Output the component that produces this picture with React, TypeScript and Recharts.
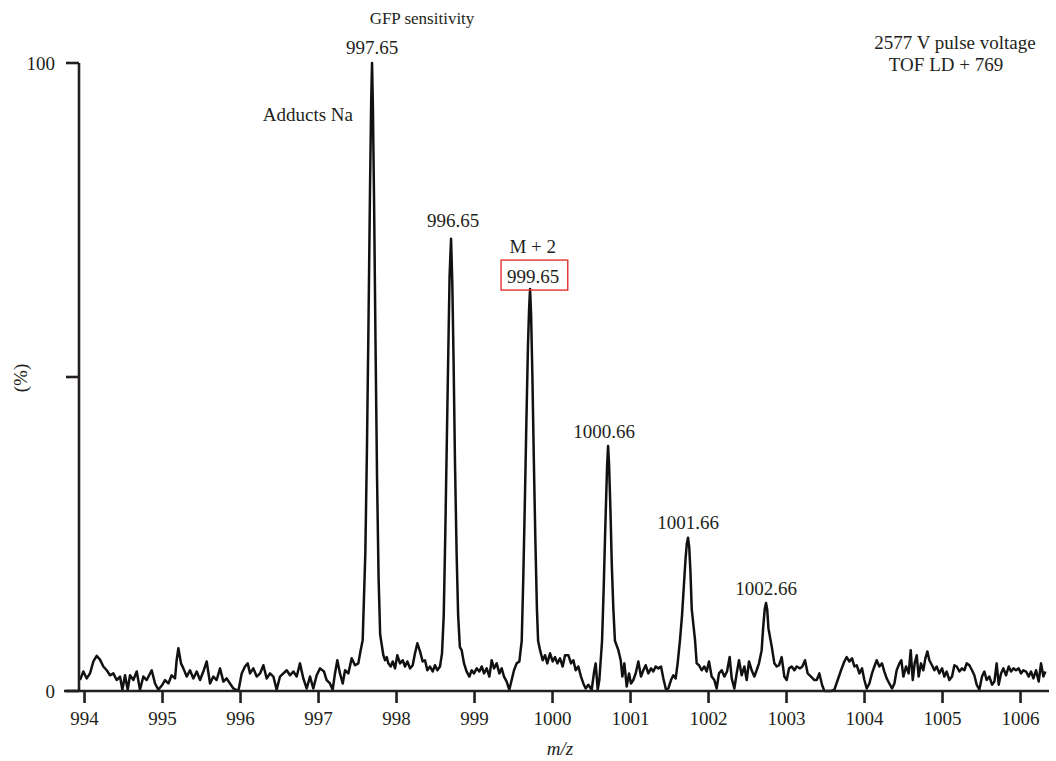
import React from 'react';
import { LineChart, Line, XAxis, YAxis, ReferenceLine, ReferenceDot } from 'recharts';

const FONT = "'Liberation Serif', 'DejaVu Serif', serif";
const INK = '#231f20';

// [m/z, intensity %]
const noise994to997: number[][] = [
  [993.942, 1.75], [993.985, 3.1], [994.028, 2.0], [994.07, 2.8], [994.113, 4.7], [994.156, 5.6], [994.198, 5.0],
  [994.241, 3.9], [994.284, 3.3], [994.327, 2.5], [994.369, 2.8], [994.412, 1.75], [994.455, 2.3], [994.485, 0.2],
  [994.519, 2.5], [994.553, 0.2], [994.583, 2.5], [994.626, 1.75], [994.669, 3.1], [994.711, 0.2], [994.754, 2.3],
  [994.797, 1.75], [994.861, 3.3], [994.904, 1.2], [994.946, 0.2], [994.998, 1.0], [995.032, 1.75], [995.075, 1.2],
  [995.117, 2.5], [995.16, 2.0], [995.181, 4.9], [995.203, 6.8], [995.237, 4.4], [995.267, 3.6], [995.31, 2.3],
  [995.352, 3.3], [995.395, 2.0], [995.438, 3.1], [995.481, 1.75], [995.523, 3.1], [995.566, 4.7], [995.609, 1.2],
  [995.651, 2.3], [995.694, 1.75], [995.737, 3.6], [995.78, 1.5], [995.822, 2.0], [995.865, 1.2], [995.908, 0.4],
  [995.972, 0], [996.015, 2.8], [996.057, 3.9], [996.092, 4.4], [996.122, 2.8], [996.164, 3.6], [996.207, 2.3],
  [996.25, 2.8], [996.293, 4.1], [996.335, 2.0], [996.378, 2.8], [996.421, 2.3], [996.463, 0.2], [996.506, 2.3],
  [996.549, 2.8], [996.592, 3.3], [996.634, 2.5], [996.677, 3.1], [996.72, 2.3], [996.762, 4.4], [996.805, 2.0],
  [996.848, 0.4], [996.891, 2.3], [996.933, 0.4], [996.976, 2.5], [997.019, 3.6], [997.07, 3.1], [997.104, 1.75],
  [997.147, 1.2], [997.181, 0.2], [997.211, 2.8], [997.241, 4.9], [997.275, 2.8], [997.31, 1.2], [997.34, 3.3],
  [997.382, 2.8], [997.425, 5.2], [997.468, 4.1], [997.51, 4.4], [997.54, 6.5], [997.566, 8.1],
];
const peak997: number[][] = [
  [997.6, 22], [997.62, 38], [997.64, 58], [997.66, 80], [997.675, 94], [997.686, 100], [997.697, 93],
  [997.712, 78], [997.73, 56], [997.75, 34], [997.77, 18], [997.79, 9],
];
const noise998: number[][] = [
  [997.831, 5.7], [997.852, 4.9], [997.874, 5.4], [997.895, 4.4], [997.925, 3.9], [997.951, 4.7], [997.981, 3.6],
  [998.01, 5.7], [998.045, 4.4], [998.079, 4.9], [998.109, 3.9], [998.139, 4.7], [998.173, 3.6], [998.207, 4.1],
  [998.237, 6.0], [998.267, 7.6], [998.301, 6.3], [998.335, 4.7], [998.365, 4.9], [998.395, 3.3], [998.429, 3.9],
  [998.463, 3.1], [998.493, 4.1], [998.523, 3.3], [998.557, 3.9], [998.583, 6.0],
];
const peak998: number[][] = [
  [998.605, 12], [998.625, 25], [998.645, 40], [998.665, 55], [998.68, 66], [998.699, 72], [998.715, 65],
  [998.732, 52], [998.75, 36], [998.77, 22], [998.79, 12], [998.812, 7],
];
const noise999: number[][] = [
  [998.835, 6.5], [998.865, 4.4], [998.899, 3.1], [998.934, 2.3], [998.963, 3.3], [998.993, 2.8], [999.028, 3.6],
  [999.062, 3.1], [999.092, 3.9], [999.122, 2.8], [999.156, 3.6], [999.19, 2.3], [999.22, 4.9], [999.25, 3.6],
  [999.284, 4.4], [999.318, 2.8], [999.348, 3.6], [999.378, 2.3], [999.412, 1.5], [999.446, 0.2], [999.476, 1.75],
  [999.506, 3.3], [999.54, 4.4], [999.575, 4.7],
];
const peak999: number[][] = [
  [999.605, 8], [999.625, 18], [999.645, 30], [999.665, 43], [999.685, 55], [999.7, 61], [999.712, 64],
  [999.725, 60], [999.742, 50], [999.76, 37], [999.78, 24], [999.8, 13], [999.815, 8],
];
const noise1000: number[][] = [
  [999.84, 6.5], [999.874, 4.9], [999.904, 5.7], [999.933, 4.4], [999.968, 6.0], [1000.002, 4.7], [1000.032, 5.4],
  [1000.062, 4.4], [1000.096, 5.2], [1000.13, 3.9], [1000.16, 5.7], [1000.203, 5.7], [1000.237, 4.4], [1000.267, 4.9],
  [1000.297, 3.3], [1000.331, 3.9], [1000.365, 2.3], [1000.395, 1.2], [1000.425, 0.4], [1000.459, 1.0], [1000.502, 0.2],
  [1000.536, 3.3], [1000.553, 4.4], [1000.579, 0.2], [1000.6, 1.75],
];
const peak1000: number[][] = [
  [1000.635, 8], [1000.655, 16], [1000.672, 24], [1000.688, 31], [1000.7, 36], [1000.712, 39], [1000.725, 36],
  [1000.742, 29], [1000.76, 20], [1000.78, 13], [1000.8, 8],
];
const noise1001: number[][] = [
  [1000.844, 6.5], [1000.874, 4.9], [1000.895, 2.3], [1000.921, 4.4], [1000.951, 0.7], [1000.981, 2.8], [1001.006, 1.2],
  [1001.036, 1.75], [1001.066, 2.8], [1001.1, 4.7], [1001.134, 2.3], [1001.164, 3.3], [1001.194, 4.1], [1001.228, 2.8],
  [1001.263, 3.6], [1001.292, 3.1], [1001.322, 3.9], [1001.357, 3.6], [1001.391, 3.9], [1001.421, 2.0], [1001.455, 0.2],
  [1001.485, 0.4], [1001.519, 1.75], [1001.549, 2.5], [1001.579, 2.0], [1001.604, 4.4], [1001.634, 8.1],
];
const peak1001: number[][] = [
  [1001.66, 12], [1001.685, 17], [1001.705, 21], [1001.722, 23.5], [1001.737, 24.4], [1001.752, 23], [1001.768, 19],
  [1001.785, 13],
];
const noise1002: number[][] = [
  [1001.827, 8.1], [1001.848, 4.4], [1001.878, 4.1], [1001.912, 3.3], [1001.946, 3.9], [1001.976, 3.1], [1002.006, 4.7],
  [1002.04, 2.3], [1002.074, 1.75], [1002.104, 0.4], [1002.134, 2.8], [1002.169, 3.3], [1002.203, 2.3], [1002.237, 3.1],
  [1002.271, 5.4], [1002.297, 2.0], [1002.331, 0.4], [1002.361, 2.8], [1002.391, 4.9], [1002.425, 2.5], [1002.459, 3.9],
  [1002.489, 1.75], [1002.519, 4.7], [1002.553, 3.3], [1002.587, 2.3], [1002.617, 3.3], [1002.647, 4.4], [1002.681, 6.5],
];
const peak1002: number[][] = [
  [1002.7, 10], [1002.72, 13], [1002.737, 14], [1002.752, 13], [1002.768, 10],
];
const noise1003to1006: number[][] = [
  [1002.81, 7.1], [1002.844, 4.4], [1002.874, 3.9], [1002.904, 4.1], [1002.938, 5.4], [1002.972, 2.3], [1003.002, 1.75],
  [1003.032, 3.6], [1003.066, 3.9], [1003.1, 3.3], [1003.13, 3.9], [1003.173, 3.6], [1003.203, 3.9], [1003.237, 4.9],
  [1003.271, 2.8], [1003.314, 2.3], [1003.357, 1.75], [1003.387, 1.75], [1003.421, 2.8], [1003.455, 1.0], [1003.485, 0],
  [1003.515, 0], [1003.571, 0], [1003.613, 0.2], [1003.656, 1.75], [1003.699, 3.3], [1003.741, 4.7], [1003.771, 5.4],
  [1003.806, 4.7], [1003.84, 5.2], [1003.87, 3.9], [1003.9, 4.1], [1003.934, 2.8], [1003.968, 3.6], [1003.998, 1.75],
  [1004.028, 0.4], [1004.062, 1.2], [1004.096, 2.8], [1004.126, 3.9], [1004.156, 4.9], [1004.19, 3.9], [1004.224, 4.4],
  [1004.254, 3.1], [1004.284, 2.0], [1004.318, 1.2], [1004.353, 0.4], [1004.383, 1.2], [1004.412, 3.3], [1004.447, 4.4],
  [1004.472, 4.9], [1004.498, 2.3], [1004.532, 3.9], [1004.566, 2.8], [1004.592, 6.5], [1004.618, 1.75], [1004.643, 4.4],
  [1004.669, 5.7], [1004.694, 2.3], [1004.724, 4.4], [1004.754, 3.3], [1004.78, 5.2], [1004.806, 6.3], [1004.831, 4.9],
  [1004.865, 4.1], [1004.895, 3.3], [1004.925, 3.9], [1004.959, 2.8], [1004.994, 3.6], [1005.024, 2.3], [1005.053, 3.1],
  [1005.088, 1.75], [1005.122, 2.3], [1005.152, 4.1], [1005.182, 3.9], [1005.216, 3.1], [1005.25, 3.6], [1005.28, 3.3],
  [1005.31, 4.4], [1005.344, 4.1], [1005.378, 3.3], [1005.408, 2.5], [1005.438, 1.0], [1005.472, 0.2], [1005.506, 2.3],
  [1005.536, 3.1], [1005.566, 1.75], [1005.6, 2.3], [1005.635, 1.0], [1005.665, 1.5], [1005.694, 4.4], [1005.72, 1.0],
  [1005.75, 2.8], [1005.78, 3.6], [1005.814, 2.5], [1005.848, 3.9], [1005.878, 3.1], [1005.908, 3.6], [1005.942, 3.3],
  [1005.976, 3.6], [1006.006, 2.8], [1006.036, 3.3], [1006.071, 3.1], [1006.105, 2.3], [1006.135, 3.1], [1006.165, 2.0],
  [1006.199, 3.3], [1006.233, 1.5], [1006.263, 4.4], [1006.293, 2.3], [1006.318, 3.1],
];

const xTicks = [994, 995, 996, 997, 998, 999, 1000, 1001, 1002, 1003, 1004, 1005, 1006];
const yTicks = [0, 50, 100];
const yTickLabels: Record<number, string> = { 0: '0', 50: '', 100: '100' };

const peakMz = [997.686, 998.699, 999.712, 1000.712, 1001.737, 1002.737];
const peakHeight = [100, 72, 64, 39, 24.4, 14];
const peakText = ['997.65', '996.65', '999.65', '1000.66', '1001.66', '1002.66'];

// label placement (pixel offsets from each peak apex)
const labelOffset = [[0, -16], [2, -18.6], [3, -12.5], [-4, -15], [0, -15], [0, -15]];

const data = [
  ...noise994to997, ...peak997, ...noise998, ...peak998, ...noise999, ...peak999,
  ...noise1000, ...peak1000, ...noise1001, ...peak1001, ...noise1002, ...peak1002, ...noise1003to1006,
]
  .map(([mz, intensity]) => ({ mz, intensity }))
  .sort((a, b) => a.mz - b.mz);

const txt = { fontFamily: FONT, fill: INK };

function XTick(props: any) {
  const { x, y, payload } = props;
  return (
    <text x={x} y={y + 7} textAnchor="middle" dominantBaseline="central" fontSize={19} style={{ fontFamily: FONT }} fill={INK}>
      {payload.value}
    </text>
  );
}

function YTick(props: any) {
  const { x, y, payload } = props;
  return (
    <text x={x} y={y} textAnchor="end" dominantBaseline="central" fontSize={19} style={{ fontFamily: FONT }} fill={INK}>
      {yTickLabels[payload.value] ?? ''}
    </text>
  );
}

function PeakLabel(props: any) {
  const { cx, cy, idx } = props;
  const [dx, dy] = labelOffset[idx];
  const x = cx + dx;
  const y = cy + dy;
  return (
    <g>
      {idx === 0 && (
        <text x={cx - 19} y={cy + 51} textAnchor="end" dominantBaseline="central" fontSize={19} {...txt}>
          Adducts Na
        </text>
      )}
      {idx === 2 && (
        <>
          <text x={cx + 2.7} y={cy - 42.6} textAnchor="middle" dominantBaseline="central" fontSize={19} {...txt}>
            M + 2
          </text>
          <rect x={cx - 29} y={cy - 29} width={66.7} height={30} fill="none" stroke="#e0332f" strokeWidth={1.4} />
        </>
      )}
      <text x={x} y={y} textAnchor="middle" dominantBaseline="central" fontSize={19} {...txt}>
        {peakText[idx]}
      </text>
    </g>
  );
}

export default function App() {
  return (
    <div style={{ position: 'absolute', left: 0, top: 0, width: 1056, height: 761, background: '#fff', fontFamily: FONT }}>
      <LineChart width={1056} height={761} data={data} margin={{ top: 63, right: 7, bottom: 30, left: 49 }}>
        <XAxis
          type="number"
          dataKey="mz"
          domain={[993.929, 1006.365]}
          allowDataOverflow
          ticks={xTicks}
          interval={0}
          height={40}
          tickSize={12}
          tickMargin={8}
          axisLine={{ stroke: INK, strokeWidth: 2.6 }}
          tickLine={{ stroke: INK, strokeWidth: 2.6 }}
          tick={<XTick />}
        />
        <YAxis
          type="number"
          domain={[0, 100]}
          ticks={yTicks}
          interval={0}
          width={30}
          tickSize={13}
          tickMargin={11}
          axisLine={{ stroke: INK, strokeWidth: 2.6 }}
          tickLine={{ stroke: INK, strokeWidth: 2.6 }}
          tick={<YTick />}
        />
        <ReferenceLine
          segment={[{ x: 993.737, y: 0 }, { x: 993.929, y: 0 }]}
          ifOverflow="visible"
          stroke={INK}
          strokeWidth={2.6}
        />
        <Line
          type="linear"
          dataKey="intensity"
          stroke="#111"
          strokeWidth={2.5}
          strokeLinejoin="round"
          dot={false}
          isAnimationActive={false}
        />
        {peakMz.map((mz, i) => (
          <ReferenceDot
            key={mz}
            x={mz}
            y={peakHeight[i]}
            r={0}
            ifOverflow="visible"
            shape={(p: any) => <PeakLabel cx={p.cx} cy={p.cy} idx={i} />}
          />
        ))}
      </LineChart>
      <svg
        width={1056}
        height={761}
        style={{ position: 'absolute', left: 0, top: 0, pointerEvents: 'none' }}
      >
        <text x={422} y={18} textAnchor="middle" dominantBaseline="central" fontSize={17} {...txt}>
          GFP sensitivity
        </text>
        <text x={955} y={42} textAnchor="middle" dominantBaseline="central" fontSize={19} {...txt}>
          2577 V pulse voltage
        </text>
        <text x={946} y={64} textAnchor="middle" dominantBaseline="central" fontSize={19} {...txt}>
          TOF LD + 769
        </text>
        <text
          x={20}
          y={378}
          textAnchor="middle"
          dominantBaseline="central"
          fontSize={19}
          transform="rotate(-90 20 378)"
          {...txt}
        >
          (%)
        </text>
        <text x={560} y={748} textAnchor="middle" dominantBaseline="central" fontSize={19} fontStyle="italic" {...txt}>
          m/z
        </text>
      </svg>
    </div>
  );
}
